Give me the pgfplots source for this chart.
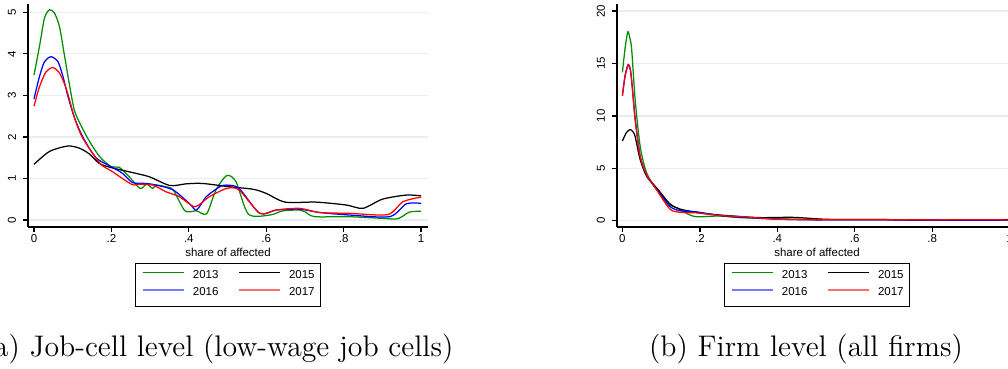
\documentclass[border=0pt]{standalone}
\usepackage{pgfplots}
\pgfplotsset{compat=1.18}
\usepackage{fontspec}
\newfontfamily\arial{Liberation Sans}
\newcommand\sfs{\arial\fontsize{4.6}{5.5}\selectfont}
\definecolor{gridc}{RGB}{230,239,241}
\definecolor{sgreen}{RGB}{0,140,0}
\definecolor{lblue}{RGB}{120,120,255}
\definecolor{lred}{RGB}{255,110,110}
\pgfplotsset{
  stata/.style={
    scale only axis, width=160pt, height=89.2pt,
    axis x line*=bottom, axis y line*=left,
    axis line style={black, line width=0.5pt, -},
    tick align=outside, major tick length=2pt,
    tick style={black, line width=0.5pt},
    ymajorgrids, grid style={color=gridc, line width=0.5pt},
    xtick={0,0.2,0.4,0.6,0.8,1}, xticklabels={0,.2,.4,.6,.8,1},
    /pgf/number format/assume math mode=true,
    tick label style={font=\sfs},
    xticklabel style={anchor=center, yshift=-2.5pt},
    yticklabel style={xshift=-4.4pt, rotate=90, anchor=center},
    xlabel={share of affected},
    xlabel style={font=\sfs, at={(axis description cs:0.5,0)}, anchor=center, yshift=-10.2pt},
    legend columns=2,
    legend cell align=left,
    legend image code/.code={\draw[#1] (0pt,1.6pt) -- (16.4pt,1.6pt);},
    legend style={at={(0.5,-0.1614)}, anchor=north, draw=black, line width=0.5pt,
      font=\sfs, inner xsep=2.4pt, inner ysep=2.8pt, row sep=2.2pt,
      column sep=3.2pt, /tikz/every even column/.append style={column sep=7.6pt},
      nodes={inner sep=0pt}},
  },
  ln/.style={line width=0.5pt, smooth, tension=0.45, forget plot},
}
\begin{document}
\begin{tikzpicture}
\begin{axis}[stata, at={(11.2pt,56.4pt)}, anchor=south west,
  xmin=-0.0155, xmax=1.018, ymin=-0.169, ymax=5.20, ytick={0,1,2,3,4,5}]
\addlegendimage{sgreen, line width=0.5pt}\addlegendentry{2013}
\addlegendimage{black, line width=0.5pt}\addlegendentry{2015}
\addlegendimage{lblue, line width=1pt}\addlegendentry{2016}
\addlegendimage{lred, line width=1pt}\addlegendentry{2017}
% 2013
\addplot[ln, sgreen] coordinates {(0,3.49) (0.014,4.17) (0.027,4.86) (0.04,5.06) (0.053,4.98) (0.066,4.65) (0.078,4.0) (0.091,3.29) (0.104,2.65) (0.12,2.3) (0.143,1.9) (0.17,1.52) (0.2,1.28) (0.22,1.27) (0.246,1.04) (0.274,0.76) (0.291,0.86) (0.307,0.76) (0.316,0.84) (0.34,0.80) (0.36,0.72) (0.39,0.22) (0.42,0.22) (0.446,0.15) (0.47,0.72) (0.498,1.07) (0.522,0.92) (0.554,0.14) (0.61,0.12) (0.643,0.22) (0.686,0.24) (0.70,0.20) (0.725,0.08) (0.81,0.08) (0.9,0.04) (0.94,0.03) (0.97,0.19) (1,0.21)};
% 2015
\addplot[ln, black] coordinates {(0,1.34) (0.04,1.65) (0.087,1.78) (0.117,1.73) (0.143,1.59) (0.169,1.36) (0.2,1.26) (0.255,1.14) (0.298,1.04) (0.351,0.83) (0.393,0.87) (0.435,0.88) (0.505,0.80) (0.566,0.74) (0.6,0.64) (0.649,0.43) (0.729,0.43) (0.807,0.36) (0.85,0.28) (0.9,0.50) (0.962,0.60) (1,0.58)};
% 2016
\addplot[ln, blue] coordinates {(0,2.91) (0.014,3.45) (0.027,3.81) (0.044,3.93) (0.062,3.81) (0.075,3.45) (0.087,3.0) (0.105,2.45) (0.126,2.0) (0.16,1.5) (0.2,1.28) (0.229,1.12) (0.255,0.9) (0.29,0.88) (0.316,0.84) (0.36,0.72) (0.402,0.39) (0.42,0.24) (0.445,0.56) (0.48,0.80) (0.498,0.84) (0.53,0.76) (0.583,0.16) (0.626,0.24) (0.686,0.26) (0.738,0.18) (0.815,0.12) (0.919,0.08) (0.962,0.39) (1,0.40)};
% 2017
\addplot[ln, red] coordinates {(0,2.74) (0.014,3.2) (0.03,3.55) (0.048,3.67) (0.065,3.55) (0.08,3.25) (0.09,2.95) (0.105,2.45) (0.126,1.97) (0.171,1.36) (0.2,1.18) (0.252,0.86) (0.272,0.86) (0.307,0.84) (0.341,0.68) (0.376,0.56) (0.416,0.32) (0.453,0.56) (0.498,0.76) (0.53,0.72) (0.584,0.16) (0.626,0.24) (0.686,0.28) (0.738,0.18) (0.815,0.16) (0.914,0.13) (0.953,0.44) (1,0.55)};
\end{axis}
\begin{axis}[stata, at={(246.8pt,56.4pt)}, anchor=south west,
  xmin=-0.014, xmax=1.019, ymin=-0.6, ymax=20.68, ytick={0,5,10,15,20}]
\addlegendimage{sgreen, line width=0.5pt}\addlegendentry{2013}
\addlegendimage{black, line width=0.5pt}\addlegendentry{2015}
\addlegendimage{lblue, line width=1pt}\addlegendentry{2016}
\addlegendimage{lred, line width=1pt}\addlegendentry{2017}
\addplot[ln, sgreen] coordinates {(0,14.15) (0.007,16.5) (0.014,18.03) (0.02,17.3) (0.024,16.3) (0.033,11.5) (0.046,7.06) (0.063,4.5) (0.089,3.0) (0.11,2.0) (0.123,1.5) (0.144,1.18) (0.16,0.8) (0.19,0.38) (0.25,0.45) (0.3,0.3) (0.38,0.2) (0.5,0.1) (0.6,0.1) (0.8,0.08) (1,0.1)};
\addplot[ln, black] coordinates {(0,7.6) (0.01,8.4) (0.02,8.7) (0.027,8.5) (0.033,8.0) (0.046,5.8) (0.063,4.2) (0.089,3.1) (0.123,1.6) (0.15,1.1) (0.2,0.75) (0.25,0.55) (0.35,0.3) (0.44,0.32) (0.53,0.13) (0.65,0.12) (0.8,0.06) (1,0.1)};
\addplot[ln, blue] coordinates {(0,12.0) (0.007,13.9) (0.015,14.9) (0.021,14.3) (0.026,12.5) (0.033,9.7) (0.046,6.1) (0.063,4.3) (0.089,2.95) (0.123,1.35) (0.15,0.95) (0.19,0.85) (0.25,0.5) (0.3,0.35) (0.4,0.15) (0.5,0.08) (0.6,0.1) (0.8,0.06) (1,0.05)};
\addplot[ln, red] coordinates {(0,11.9) (0.007,13.8) (0.015,14.85) (0.021,14.3) (0.026,12.5) (0.033,9.6) (0.046,6.1) (0.063,4.36) (0.089,2.9) (0.123,1.1) (0.15,0.8) (0.19,0.75) (0.25,0.5) (0.3,0.4) (0.4,0.15) (0.5,0.1) (0.6,0.12) (0.8,0.08) (0.95,0.1) (1,0.05)};
\end{axis}
\node[font=\fontsize{11.9}{14.3}\selectfont, anchor=base] at (87.2pt,4.8pt) {(a) Job-cell level (low-wage job cells)};
\node[font=\fontsize{11.9}{14.3}\selectfont, anchor=base] at (322.4pt,4.8pt) {(b) Firm level (all firms)};
\pgfresetboundingbox
\path[use as bounding box] (0,0) rectangle (403.2pt,147.2pt);
\end{tikzpicture}
\end{document}
